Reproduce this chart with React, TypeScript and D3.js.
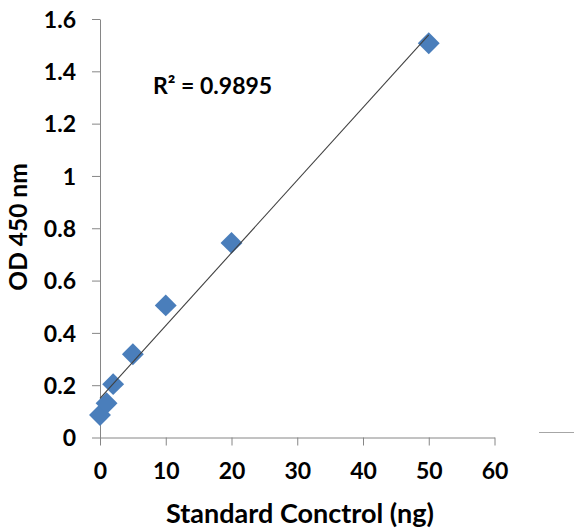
import React, { useEffect, useRef } from 'react';
import * as d3 from 'd3';

// standard curve readings
const concentrations = [0, 1, 2, 5, 10, 20, 50];
const odValues = [0.086, 0.131, 0.204, 0.318, 0.505, 0.744, 1.507];
const xTicks = [0, 10, 20, 30, 40, 50, 60];
const yTicks = [0, 0.2, 0.4, 0.6, 0.8, 1, 1.2, 1.4, 1.6];
const r2Label = 'R² = 0.9895';

const W = 574;
const H = 531;
const FONT = 'Lato, "Open Sans", sans-serif';

export default function App() {
  const ref = useRef<SVGSVGElement | null>(null);

  useEffect(() => {
    const svg = d3.select(ref.current);
    svg.selectAll('*').remove();

    const x = d3.scaleLinear().domain([0, 60]).range([100, 494.5]);
    const y = d3.scaleLinear().domain([0, 1.6]).range([437.5, 19]);

    // y axis
    const yAxis = svg.append('g')
      .attr('transform', 'translate(' + x(0) + ',0)')
      .call(d3.axisLeft(y).tickValues(yTicks).tickSize(8).tickSizeOuter(0).tickFormat(d3.format('~g')));
    yAxis.select('.domain').attr('stroke', '#868686');
    yAxis.selectAll('line').attr('stroke', '#868686');
    yAxis.selectAll('text')
      .attr('x', -24)
      .attr('dy', '0.36em')
      .attr('fill', '#000')
      .style('font', 'bold 23px ' + FONT);

    // x axis
    const xAxis = svg.append('g')
      .attr('transform', 'translate(0,' + y(0) + ')')
      .call(d3.axisBottom(x).tickValues(xTicks).tickSize(8).tickSizeOuter(0));
    xAxis.select('.domain').attr('stroke', '#868686');
    xAxis.selectAll('line').attr('stroke', '#868686');
    xAxis.selectAll('text')
      .attr('y', 25)
      .attr('dy', '0.72em')
      .attr('fill', '#000')
      .style('font', 'bold 23px ' + FONT);

    // stray legend line at the right edge
    svg.append('line')
      .attr('x1', 539).attr('x2', W)
      .attr('y1', 432.5).attr('y2', 432.5)
      .attr('stroke', '#a6a6a6');

    // markers
    const pts = concentrations.map((c, i) => ({ c, od: odValues[i] }));
    svg.append('g').selectAll('path')
      .data(pts)
      .enter()
      .append('path')
      .attr('d', d3.symbol().type(d3.symbolSquare).size(240)())
      .attr('transform', d => 'translate(' + x(d.c) + ',' + y(d.od) + ') rotate(45)')
      .attr('fill', '#4a7ebb');

    // linear trendline
    const mx = d3.mean(concentrations) as number;
    const my = d3.mean(odValues) as number;
    const sxy = d3.sum(pts, d => (d.c - mx) * (d.od - my));
    const sxx = d3.sum(pts, d => (d.c - mx) * (d.c - mx));
    const slope = sxy / sxx;
    const icpt = my - slope * mx;
    const ext = d3.extent(concentrations) as [number, number];
    svg.append('path')
      .datum(ext)
      .attr('d', d3.line<number>().x(d => x(d)).y(d => y(icpt + slope * d)))
      .attr('stroke', '#404040')
      .attr('stroke-width', 1.1)
      .attr('fill', 'none');

    svg.append('text')
      .attr('x', 153).attr('y', 93.5)
      .attr('fill', '#000')
      .style('font', 'bold 23px ' + FONT)
      .text(r2Label);

    svg.append('text')
      .attr('x', 300).attr('y', 523)
      .attr('text-anchor', 'middle')
      .attr('fill', '#000')
      .style('font', 'bold 27px ' + FONT)
      .text('Standard Conctrol (ng)');

    svg.append('text')
      .attr('transform', 'translate(27,227) rotate(-90)')
      .attr('text-anchor', 'middle')
      .attr('fill', '#000')
      .style('font', 'bold 24.5px ' + FONT)
      .text('OD 450 nm');
  }, []);

  return (
    <svg ref={ref} width={W} height={H}
      style={{ position: 'absolute', left: 0, top: 0, background: '#fff' }} />
  );
}
